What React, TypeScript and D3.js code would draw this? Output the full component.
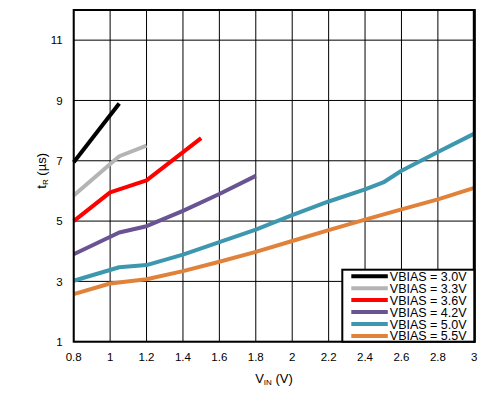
import React from "react";
import * as d3 from "d3";

// VIN (V) vs tR (µs) for each VBIAS
const SERIES_LABELS = [
  "VBIAS = 3.0V",
  "VBIAS = 3.3V",
  "VBIAS = 3.6V",
  "VBIAS = 4.2V",
  "VBIAS = 5.0V",
  "VBIAS = 5.5V",
];
const SERIES_COLORS = ["#000000", "#b4b4b4", "#ff0000", "#6a5393", "#3d97ae", "#e0823a"];

const vbias30: [number, number][] = [[0.8, 6.95], [1.05, 8.9]];
const vbias33: [number, number][] = [[0.8, 5.85], [1.05, 7.15], [1.2, 7.5]];
const vbias36: [number, number][] = [[0.8, 5.0], [1.0, 5.95], [1.05, 6.05], [1.2, 6.35], [1.5, 7.75]];
const vbias42: [number, number][] = [[0.8, 3.9], [1.05, 4.62], [1.2, 4.83], [1.4, 5.34], [1.6, 5.9], [1.8, 6.5]];
const vbias50: [number, number][] = [
  [0.8, 3.02], [1.05, 3.47], [1.2, 3.54], [1.4, 3.89], [1.6, 4.3], [1.8, 4.72],
  [2.0, 5.2], [2.2, 5.65], [2.4, 6.05], [2.5, 6.28], [2.6, 6.67], [2.8, 7.29], [3.0, 7.9],
];
const vbias55: [number, number][] = [
  [0.8, 2.58], [1.0, 2.93], [1.2, 3.07], [1.4, 3.34], [1.6, 3.65], [1.8, 3.98],
  [2.0, 4.34], [2.2, 4.7], [2.4, 5.05], [2.6, 5.39], [2.8, 5.72], [3.0, 6.1],
];
const SERIES = [vbias30, vbias33, vbias36, vbias42, vbias50, vbias55];

const X_TICKS = [0.8, 1, 1.2, 1.4, 1.6, 1.8, 2, 2.2, 2.4, 2.6, 2.8, 3];
const Y_TICKS = [1, 3, 5, 7, 9, 11];

const W = 490;
const H = 402;
const margin = { top: 10, right: 15.7, bottom: 60.3, left: 73.7 };
const FONT = "'Liberation Sans', Arial, sans-serif";

export default function App() {
  const x = d3.scaleLinear().domain([0.8, 3]).range([margin.left, W - margin.right]);
  const y = d3.scaleLinear().domain([1, 12]).range([H - margin.bottom, margin.top]);
  const line = d3
    .line<[number, number]>()
    .x((d) => x(d[0]))
    .y((d) => y(d[1]));

  const x0 = x(0.8);
  const x1 = x(3);
  const y0 = y(1);
  const y1 = y(12);

  // legend sits in the bottom-right corner of the plot
  const legW = 132;
  const legH = 72;
  const legX = x1 - legW;
  const legY = y0 - legH;
  const rowH = 11.95;

  return (
    <svg
      width={W}
      height={H}
      style={{ position: "absolute", left: 0, top: 0, background: "#fff" }}
      fontFamily={FONT}
    >
      {/* grid */}
      {X_TICKS.map((t) => (
        <line key={"gx" + t} x1={x(t)} x2={x(t)} y1={y1} y2={y0} stroke="#000" strokeWidth={1} />
      ))}
      {Y_TICKS.map((t) => (
        <line key={"gy" + t} x1={x0} x2={x1} y1={y(t)} y2={y(t)} stroke="#000" strokeWidth={1} />
      ))}

      {/* series */}
      {SERIES.map((s, i) => (
        <path
          key={i}
          d={line(s) ?? ""}
          fill="none"
          stroke={SERIES_COLORS[i]}
          strokeWidth={4}
          strokeLinejoin="round"
        />
      ))}

      {/* frame */}
      <rect x={x0} y={y1} width={x1 - x0} height={y0 - y1} fill="none" stroke="#000" strokeWidth={2} />
      <line x1={x1} x2={x1} y1={y1 - 1} y2={y0 + 1} stroke="#000" strokeWidth={3} />

      {/* legend */}
      <rect x={legX} y={legY} width={legW} height={legH} fill="#fff" stroke="#000" strokeWidth={2} />
      {SERIES_LABELS.map((lab, i) => {
        const cy = legY + 6.5 + i * rowH;
        return (
          <g key={lab}>
            <line x1={legX + 9} x2={legX + 45.5} y1={cy} y2={cy} stroke={SERIES_COLORS[i]} strokeWidth={4} />
            <text x={legX + 47.5} y={cy} dy="0.36em" fontSize={12.5} fill="#000">
              {lab}
            </text>
          </g>
        );
      })}

      {/* tick labels */}
      {X_TICKS.map((t) => (
        <text key={"tx" + t} x={x(t)} y={y0 + 19} textAnchor="middle" fontSize={11.5} fill="#000">
          {String(t)}
        </text>
      ))}
      {Y_TICKS.map((t) => (
        <text key={"ty" + t} x={x0 - 11} y={y(t)} dy="0.36em" textAnchor="end" fontSize={11.5} fill="#000">
          {String(t)}
        </text>
      ))}

      {/* axis titles */}
      <text x={(x0 + x1) / 2} y={383} textAnchor="middle" fontSize={13} fill="#000">
        V<tspan fontSize={8} dy={2}>IN</tspan>
        <tspan dy={-2}> (V)</tspan>
      </text>
      <text
        transform={`translate(46,${(y0 + y1) / 2 - 5}) rotate(-90)`}
        textAnchor="middle"
        fontSize={13}
        fill="#000"
      >
        t<tspan fontSize={8} dy={2}>R</tspan>
        <tspan dy={-2}> (µs)</tspan>
      </text>
    </svg>
  );
}
